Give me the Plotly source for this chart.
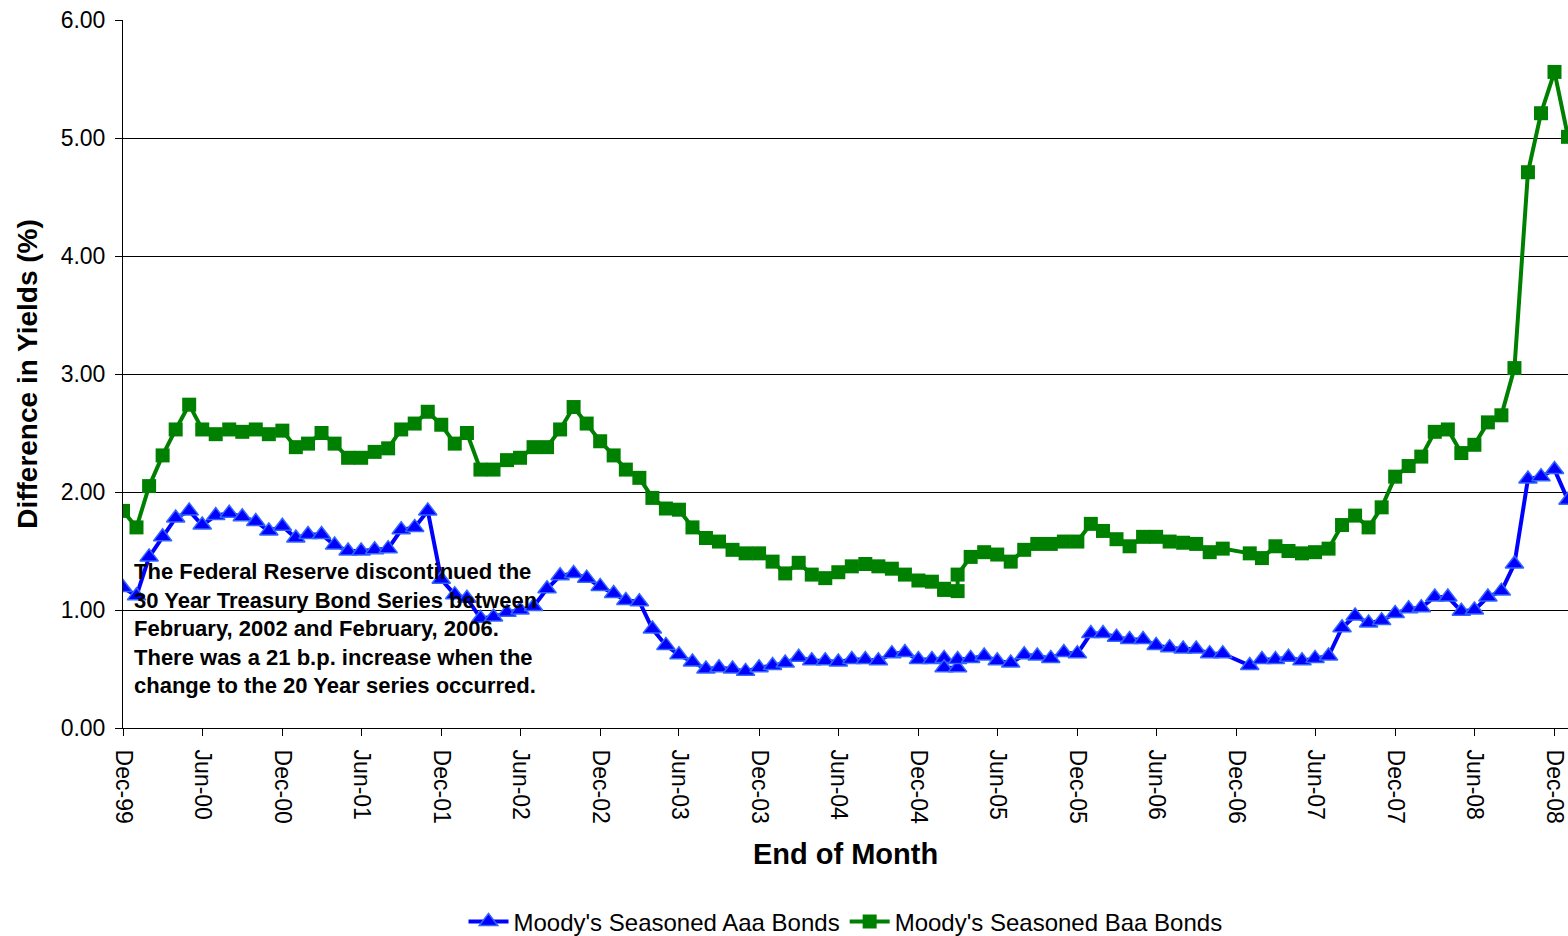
import plotly.graph_objects as go

# End-of-month dates (Feb-05 and Mar-05 appear twice in the source; Dec-06 is missing)
dates = [
    "1999-12-31",
    "2000-01-31", "2000-02-29", "2000-03-31", "2000-04-30", "2000-05-31", "2000-06-30",
    "2000-07-31", "2000-08-31", "2000-09-30", "2000-10-31", "2000-11-30", "2000-12-31",
    "2001-01-31", "2001-02-28", "2001-03-31", "2001-04-30", "2001-05-31", "2001-06-30",
    "2001-07-31", "2001-08-31", "2001-09-30", "2001-10-31", "2001-11-30", "2001-12-31",
    "2002-01-31", "2002-02-28", "2002-03-31", "2002-04-30", "2002-05-31", "2002-06-30",
    "2002-07-31", "2002-08-31", "2002-09-30", "2002-10-31", "2002-11-30", "2002-12-31",
    "2003-01-31", "2003-02-28", "2003-03-31", "2003-04-30", "2003-05-31", "2003-06-30",
    "2003-07-31", "2003-08-31", "2003-09-30", "2003-10-31", "2003-11-30", "2003-12-31",
    "2004-01-31", "2004-02-29", "2004-03-31", "2004-04-30", "2004-05-31", "2004-06-30",
    "2004-07-31", "2004-08-31", "2004-09-30", "2004-10-31", "2004-11-30", "2004-12-31",
    "2005-01-31", "2005-02-28", "2005-02-28", "2005-03-31", "2005-03-31", "2005-04-30",
    "2005-05-31", "2005-06-30", "2005-07-31", "2005-08-31", "2005-09-30", "2005-10-31",
    "2005-11-30", "2005-12-31",
    "2006-01-31", "2006-02-28", "2006-03-31", "2006-04-30", "2006-05-31", "2006-06-30",
    "2006-07-31", "2006-08-31", "2006-09-30", "2006-10-31", "2006-11-30",
    "2007-01-31", "2007-02-28", "2007-03-31", "2007-04-30", "2007-05-31", "2007-06-30",
    "2007-07-31", "2007-08-31", "2007-09-30", "2007-10-31", "2007-11-30", "2007-12-31",
    "2008-01-31", "2008-02-29", "2008-03-31", "2008-04-30", "2008-05-31", "2008-06-30",
    "2008-07-31", "2008-08-31", "2008-09-30", "2008-10-31", "2008-11-30", "2008-12-31",
    "2009-01-31",
]

aaa_spread = [
    1.19,
    1.12, 1.45, 1.62, 1.78, 1.84, 1.72, 1.80, 1.82, 1.79, 1.75, 1.67, 1.71,
    1.61, 1.64, 1.64, 1.55, 1.50, 1.50, 1.51, 1.52, 1.68, 1.70, 1.84, 1.26,
    1.13, 1.10, 0.93, 0.94, 0.98, 1.00, 1.03, 1.18, 1.29, 1.31, 1.27, 1.20,
    1.14, 1.08, 1.07, 0.84, 0.70, 0.62, 0.56, 0.50, 0.51, 0.50, 0.48, 0.51,
    0.53, 0.55, 0.60, 0.57, 0.57, 0.56, 0.58, 0.58, 0.57, 0.63, 0.64, 0.58,
    0.58, 0.59, 0.51, 0.51, 0.58, 0.59, 0.61, 0.57, 0.55, 0.62, 0.61, 0.59, 0.64, 0.63,
    0.80, 0.80, 0.77, 0.75, 0.75, 0.70, 0.68, 0.67, 0.67, 0.63, 0.63,
    0.53, 0.58, 0.58, 0.60, 0.57, 0.59, 0.61, 0.85, 0.95, 0.89, 0.91, 0.97,
    1.01, 1.02, 1.11, 1.11, 0.99, 1.00, 1.11, 1.16, 1.39, 2.11, 2.13, 2.19,
    1.93,
]

baa_spread = [
    1.84,
    1.70, 2.05, 2.31, 2.53, 2.74, 2.53, 2.49, 2.53, 2.51, 2.53, 2.49, 2.52,
    2.38, 2.41, 2.50, 2.41, 2.29, 2.29, 2.34, 2.37, 2.53, 2.58, 2.68, 2.57,
    2.41, 2.50, 2.19, 2.19, 2.27, 2.29, 2.38, 2.38, 2.53, 2.72, 2.58, 2.43,
    2.31, 2.19, 2.12, 1.95, 1.86, 1.85, 1.70, 1.61, 1.58, 1.51, 1.48, 1.48,
    1.41, 1.31, 1.40, 1.30, 1.27, 1.32, 1.37, 1.39, 1.37, 1.35, 1.30, 1.25,
    1.24, 1.18, 1.17, 1.16, 1.30, 1.45, 1.49, 1.47, 1.41, 1.51, 1.56, 1.56, 1.58, 1.58,
    1.73, 1.67, 1.60, 1.54, 1.62, 1.62, 1.58, 1.57, 1.56, 1.49, 1.52,
    1.48, 1.44, 1.54, 1.50, 1.48, 1.49, 1.52, 1.72, 1.80, 1.70, 1.87, 2.13,
    2.22, 2.30, 2.51, 2.53, 2.33, 2.40, 2.59, 2.65, 3.05, 4.71, 5.21, 5.56,
    5.01,
]

tick_dates = [
    "1999-12-31", "2000-06-30", "2000-12-31", "2001-06-30", "2001-12-31",
    "2002-06-30", "2002-12-31", "2003-06-30", "2003-12-31", "2004-06-30",
    "2004-12-31", "2005-06-30", "2005-12-31", "2006-06-30", "2006-12-31",
    "2007-06-30", "2007-12-31", "2008-06-30", "2008-12-31",
]
tick_labels = [
    "Dec-99", "Jun-00", "Dec-00", "Jun-01", "Dec-01", "Jun-02", "Dec-02",
    "Jun-03", "Dec-03", "Jun-04", "Dec-04", "Jun-05", "Dec-05", "Jun-06",
    "Dec-06", "Jun-07", "Dec-07", "Jun-08", "Dec-08",
]
y_ticks = [0, 1, 2, 3, 4, 5, 6]

note = ("The Federal Reserve discontinued the<br>"
        "30 Year Treasury Bond Series between<br>"
        "February, 2002 and February, 2006.<br>"
        "There was a 21 b.p. increase when the<br>"
        "change to the 20 Year series occurred.")

FONT = "Liberation Sans, Arial, sans-serif"

fig = go.Figure()
fig.add_trace(go.Scatter(
    x=dates, y=aaa_spread, mode="lines+markers",
    name="Moody's Seasoned Aaa Bonds",
    line=dict(color="#0000FF", width=4),
    marker=dict(symbol="triangle-up", size=16, color="#0000FF",
                line=dict(color="#3366FF", width=1.5)),
))
fig.add_trace(go.Scatter(
    x=dates, y=baa_spread, mode="lines+markers",
    name="Moody's Seasoned Baa Bonds",
    line=dict(color="#008000", width=4),
    marker=dict(symbol="square", size=14, color="#008000",
                line=dict(color="#008000", width=0)),
))

fig.add_annotation(
    text=note, xref="paper", yref="paper", x=0.006, y=0.14,
    xanchor="left", yanchor="middle", align="left", showarrow=False,
    font=dict(family=FONT, size=22, color="black", weight="bold"),
)

fig.update_layout(
    width=1568, height=936,
    margin=dict(l=123, r=0, t=20, b=208, autoexpand=False),
    paper_bgcolor="white", plot_bgcolor="white",
    font=dict(family=FONT, color="black", size=23),
    showlegend=True,
    legend=dict(orientation="h", x=0.5, xanchor="center", y=-0.274,
                yanchor="middle", font=dict(size=24, family=FONT),
                itemwidth=40, tracegroupgap=0),
    xaxis=dict(
        type="date", range=["1999-12-31", "2009-01-31"],
        tickmode="array", tickvals=tick_dates, ticktext=tick_labels,
        tickangle=90, ticks="outside", ticklen=7, tickcolor="black",
        ticklabelstandoff=9, ticklabeloverflow="allow", automargin=False,
        showline=True, linecolor="black", linewidth=1,
        showgrid=False, zeroline=False,
        tickfont=dict(size=23, family=FONT),
        title=dict(text="<b>End of Month</b>", font=dict(size=29, family=FONT),
                   standoff=20),
    ),
    yaxis=dict(
        range=[0, 6], tickmode="array", tickvals=y_ticks,
        tickformat=".2f", ticks="outside", ticklen=7, tickcolor="black",
        ticklabelstandoff=5, automargin=False,
        showline=True, linecolor="black", linewidth=1,
        showgrid=True, gridcolor="black", gridwidth=1, zeroline=False,
        tickfont=dict(size=23, family=FONT),
        title=dict(text="<b>Difference in Yields (%)</b>",
                   font=dict(size=28, family=FONT), standoff=14),
    ),
)

fig.write_html("out.html")
